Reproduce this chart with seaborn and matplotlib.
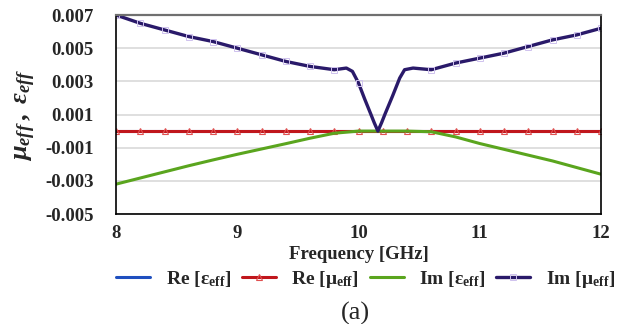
import matplotlib
matplotlib.use("Agg")
import matplotlib.pyplot as plt
import seaborn as sns
import pandas as pd
from matplotlib.ticker import FixedLocator, FormatStrFormatter

# Frequency grid (GHz) for the smooth series
freq = [8.0, 8.2, 8.4, 8.6, 8.8, 9.0, 9.2, 9.4, 9.6, 9.8, 10.0, 10.2, 10.4,
        10.6, 10.8, 11.0, 11.2, 11.4, 11.6, 11.8, 12.0]
re_eps = [0.0, 0.0, 0.0, 0.0, 0.0, 0.0, 0.0, 0.0, 0.0, 0.0, 0.0, 0.0, 0.0,
          0.0, 0.0, 0.0, 0.0, 0.0, 0.0, 0.0, 0.0]
re_mu = [0.0, 0.0, 0.0, 0.0, 0.0, 0.0, 0.0, 0.0, 0.0, 0.0, 0.0, 0.0, 0.0,
         0.0, 0.0, 0.0, 0.0, 0.0, 0.0, 0.0, 0.0]
im_eps = [-0.0032, -0.00283, -0.00246, -0.00209, -0.00174, -0.0014,
          -0.00108, -0.00076, -0.00043, -0.00013, 0.0, 0.0, 0.0, -0.00004,
          -0.00035, -0.00075, -0.0011, -0.00145, -0.0018, -0.0022, -0.0026]

# Finer grid around the resonance for Im[mu]
freq_mu = [8.0, 8.2, 8.4, 8.6, 8.8, 9.0, 9.2, 9.4, 9.6, 9.8, 9.9, 9.95, 10.0,
           10.05, 10.1, 10.13, 10.16, 10.19, 10.22, 10.28, 10.34, 10.38,
           10.45, 10.6, 10.8, 11.0, 11.2, 11.4, 11.6, 11.8, 12.0]
im_mu = [0.0070, 0.0065, 0.0061, 0.0057, 0.0054, 0.0050, 0.0046, 0.0042,
         0.0039, 0.0037, 0.0038, 0.0036, 0.0029, 0.00195, 0.00105, 0.0005,
         0.0000, 0.0005, 0.00105, 0.0021, 0.0032, 0.0037, 0.0038, 0.0037,
         0.0041, 0.0044, 0.0047, 0.0051, 0.0055, 0.0058, 0.0062]

x_ticks = [8, 9, 10, 11, 12]
y_ticks = [-0.005, -0.003, -0.001, 0.001, 0.003, 0.005, 0.007]

sns.set_theme(style="white")
plt.rcParams["font.family"] = ["Liberation Serif", "DejaVu Serif"]
plt.rcParams["mathtext.fontset"] = "custom"
plt.rcParams["mathtext.rm"] = "Liberation Serif:bold"
plt.rcParams["mathtext.bf"] = "Liberation Serif:bold"
plt.rcParams["mathtext.it"] = "Liberation Serif:bold:italic"
plt.rcParams["axes.unicode_minus"] = False

fig = plt.figure(figsize=(6.25, 3.24), dpi=100)
ax = fig.add_axes([0.1856, 0.3395, 0.776, 0.6142])

df = pd.DataFrame({"f": freq, "re_eps": re_eps, "re_mu": re_mu,
                   "im_eps": im_eps})
df_mu = pd.DataFrame({"f": freq_mu, "im_mu": im_mu})
# square markers only at the regular 0.2 GHz steps
mu_marks = [i for i, f in enumerate(freq_mu) if f in freq]

lab_re_eps = r"Re [$\mathrm{\varepsilon_{eff}}$]"
lab_re_mu = r"Re [$\mathrm{\mu_{eff}}$]"
lab_im_eps = r"Im [$\mathrm{\varepsilon_{eff}}$]"
lab_im_mu = r"Im [$\mathrm{\mu_{eff}}$]"

sns.lineplot(data=df, x="f", y="re_eps", ax=ax, color="#1f4fbf", lw=2.2,
             label=lab_re_eps)
sns.lineplot(data=df, x="f", y="re_mu", ax=ax, color="#c0161c", lw=2.2,
             marker="^", markersize=4, markeredgecolor="#e05050",
             markerfacecolor="none", markeredgewidth=0.8, label=lab_re_mu)
sns.lineplot(data=df, x="f", y="im_eps", ax=ax, color="#5aa51e", lw=2.2,
             label=lab_im_eps)
sns.lineplot(data=df_mu, x="f", y="im_mu", ax=ax, color="#2a1a6a", lw=2.4,
             marker="s", markersize=4, markeredgecolor="#cfc2ee",
             markerfacecolor="none", markeredgewidth=0.7,
             markevery=mu_marks, label=lab_im_mu)

ax.set_xlim(8, 12)
ax.set_ylim(-0.005, 0.007)
ax.yaxis.set_major_locator(FixedLocator(y_ticks))
ax.yaxis.set_major_formatter(FormatStrFormatter("%.3f"))
ax.xaxis.set_major_locator(FixedLocator(x_ticks))
ax.grid(axis="y", color="#d9d9d9", lw=1.2)
ax.grid(axis="x", visible=False)
ax.tick_params(axis="both", length=0, labelsize=13.5)
ax.tick_params(axis="y", pad=16)
ax.tick_params(axis="x", pad=8)
for t in ax.get_xticklabels() + ax.get_yticklabels():
    t.set_fontweight("bold")

for side in ["left", "bottom", "right"]:
    ax.spines[side].set_color("black")
    ax.spines[side].set_linewidth(1.2)
ax.spines["top"].set_color("#707070")
ax.spines["top"].set_linewidth(1.6)

ax.set_xlabel("Frequency [GHz]", fontsize=13.5, fontweight="bold", labelpad=3)
ax.set_ylabel(r"$\mu_{eff}\,,\ \varepsilon_{eff}$", fontsize=19, labelpad=4)
ax.yaxis.set_label_coords(-0.16, 0.5)

ax.get_legend().remove()
handles, labels = ax.get_legend_handles_labels()
fig.legend(handles, labels, ncol=4, loc="center", bbox_to_anchor=(0.585, 0.138),
           frameon=False, handlelength=1.75, handletextpad=0.8,
           columnspacing=0.55, prop={"weight": "bold", "size": 14})

fig.text(0.568, 0.034, "(a)", ha="center", va="center", fontsize=19)

fig.savefig("out.png", dpi=100)
